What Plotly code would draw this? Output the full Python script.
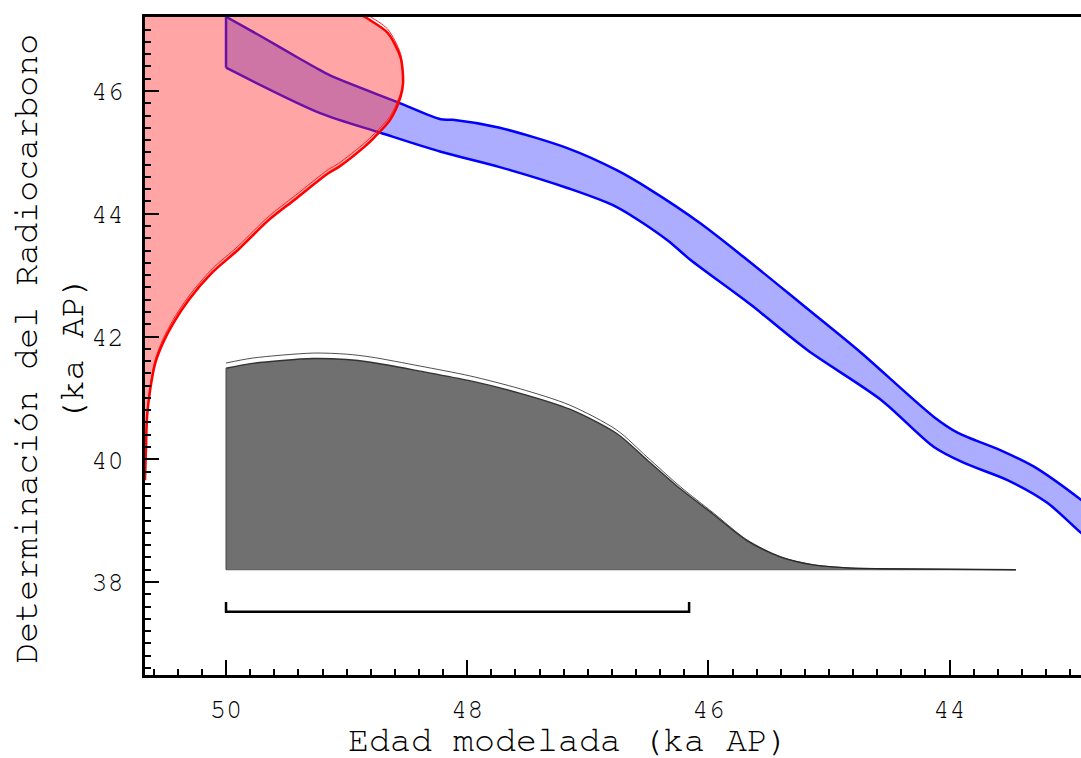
import plotly.graph_objects as go

# ---------------- data ----------------
# Calibration curve band (modelled age in ka, radiocarbon age in ka)
cal_upper_age = [50.0, 49.70, 49.41, 49.22, 49.11, 48.58, 48.22, 48.12, 47.73, 47.17, 46.76,
                 46.48, 46.07, 45.71, 45.24, 44.76, 44.13, 43.93, 43.58, 43.30, 42.91, 42.70]
cal_upper_c14 = [47.21, 46.88, 46.55, 46.34, 46.23, 45.82, 45.54, 45.53, 45.40, 45.07, 44.71,
                 44.39, 43.85, 43.30, 42.55, 41.78, 40.69, 40.43, 40.15, 39.88, 39.34, 39.00]
cal_lower_age = [50.0, 49.22, 48.72, 48.22, 47.73, 47.17, 46.76, 46.34, 46.15, 45.65, 45.18,
                 44.57, 44.13, 43.88, 43.52, 43.19, 42.91, 42.70]
cal_lower_c14 = [46.38, 45.64, 45.32, 45.01, 44.76, 44.42, 44.11, 43.57, 43.25, 42.52, 41.78,
                 40.97, 40.20, 39.94, 39.66, 39.29, 38.80, 38.45]

# Radiocarbon determination probability (relative) vs radiocarbon age (ka)
c14_age = [39.66, 40.20, 40.69, 41.13, 41.57, 41.90, 42.22, 42.60, 43.04, 43.41, 43.90,
           44.23, 44.66, 44.76, 45.09, 45.25, 45.53, 45.90, 46.13, 46.55, 46.95, 47.16,
           47.21, 47.50, 48.00]
c14_prob = [0.0, 0.004, 0.008, 0.02, 0.04, 0.07, 0.11, 0.17, 0.26, 0.36, 0.48,
            0.58, 0.71, 0.75, 0.85, 0.89, 0.95, 0.99, 1.0, 0.99, 0.94, 0.87,
            0.85, 0.70, 0.40]

# Modelled age posterior (relative) vs modelled age (ka)
post_age = [50.0, 49.78, 49.28, 49.00, 48.80, 48.39, 47.98, 47.56, 47.15, 46.76,
            46.51, 46.23, 45.96, 45.68, 45.40, 45.13, 44.85, 44.57, 43.45]
post_prob = [0.954, 0.977, 1.0, 0.995, 0.982, 0.94, 0.895, 0.835, 0.76, 0.645,
             0.521, 0.382, 0.263, 0.138, 0.060, 0.023, 0.009, 0.005, 0.0]

# 95% modelled range (ka)
range_start, range_end = 50.0, 46.16

x_ticks = [50, 48, 46, 44]
y_ticks = [38, 40, 42, 44, 46]

# ---------------- layout constants ----------------
X_RANGE = [50.672, 42.91]
Y_RANGE = [36.485, 47.206]
RED_SCALE = 2.14      # ka of x per unit probability
GRAY_BASE = 38.2
GRAY_SCALE = 3.53     # ka of y per unit probability
BRACKET_Y = 37.515
BRACKET_TICK = 0.16
FONT = "FreeMono, Nimbus Mono PS, Courier New, Liberation Mono, monospace"
SPL = dict(shape="spline", smoothing=0.8)

fig = go.Figure()

# Calibration band
fig.add_trace(go.Scatter(x=cal_lower_age, y=cal_lower_c14, mode="lines",
                         line=dict(color="#0000ff", width=2.5, **SPL), hoverinfo="skip"))
fig.add_trace(go.Scatter(x=cal_upper_age, y=cal_upper_c14, mode="lines", fill="tonexty",
                         fillcolor="rgba(0,0,255,0.32)",
                         line=dict(color="#0000ff", width=2.5, **SPL), hoverinfo="skip"))
fig.add_trace(go.Scatter(x=[cal_upper_age[0], cal_lower_age[0]],
                         y=[cal_upper_c14[0], cal_lower_c14[0]], mode="lines",
                         line=dict(color="#0000ff", width=2.5), hoverinfo="skip"))

# Radiocarbon determination (red)
xl = X_RANGE[0] + 0.5
red_x = [X_RANGE[0] - p * RED_SCALE for p in c14_prob]
fig.add_trace(go.Scatter(x=[xl, xl], y=[c14_age[0], c14_age[-1]], mode="lines",
                         line=dict(width=0), hoverinfo="skip"))
fig.add_trace(go.Scatter(x=red_x, y=c14_age, mode="lines", fill="tonextx",
                         fillcolor="rgba(255,40,40,0.42)",
                         line=dict(width=0, **SPL), hoverinfo="skip"))
fig.add_trace(go.Scatter(x=red_x, y=[a + 0.06 for a in c14_age], mode="lines",
                         line=dict(color="#ff2020", width=1, **SPL), hoverinfo="skip"))
fig.add_trace(go.Scatter(x=red_x, y=c14_age, mode="lines",
                         line=dict(color="#ff0000", width=2.5, **SPL), hoverinfo="skip"))

# Modelled age posterior (gray)
gy = [GRAY_BASE + p * GRAY_SCALE for p in post_prob]
gy_hist = [GRAY_BASE + p * GRAY_SCALE * 0.975 for p in post_prob]
fig.add_trace(go.Scatter(x=[post_age[0], post_age[-1]], y=[GRAY_BASE, GRAY_BASE], mode="lines",
                         line=dict(color="#555555", width=1), hoverinfo="skip"))
fig.add_trace(go.Scatter(x=post_age, y=gy_hist, mode="lines", fill="tonexty",
                         fillcolor="rgb(112,112,112)",
                         line=dict(color="#333333", width=1.4, **SPL), hoverinfo="skip"))
fig.add_trace(go.Scatter(x=[post_age[0], post_age[0]], y=[GRAY_BASE, gy_hist[0]], mode="lines",
                         line=dict(color="#444444", width=1), hoverinfo="skip"))
fig.add_trace(go.Scatter(x=post_age, y=gy, mode="lines",
                         line=dict(color="#222222", width=0.8, **SPL), hoverinfo="skip"))

# Range bracket
fig.add_trace(go.Scatter(x=[range_start, range_start, range_end, range_end],
                         y=[BRACKET_Y + BRACKET_TICK, BRACKET_Y, BRACKET_Y, BRACKET_Y + BRACKET_TICK],
                         mode="lines", line=dict(color="black", width=2.5), hoverinfo="skip"))

fig.update_layout(
    width=1081, height=758,
    margin=dict(l=145, r=0, t=17, b=83),
    paper_bgcolor="white", plot_bgcolor="white",
    showlegend=False,
    font=dict(family=FONT, color="black"),
    xaxis=dict(range=X_RANGE, tickvals=x_ticks, ticktext=[str(v) for v in x_ticks],
               ticks="inside", ticklen=15, tickwidth=2, tickcolor="black",
               minor=dict(ticks="inside", ticklen=6, tickwidth=1.5, tickcolor="black", dtick=0.2,
                          tick0=0, showgrid=False),
               showline=True, linewidth=3, linecolor="black", mirror=True,
               showgrid=False, zeroline=False, tickfont=dict(size=27, family=FONT),
               ticklabelstandoff=8),
    yaxis=dict(range=Y_RANGE, tickvals=y_ticks, ticktext=[str(v) for v in y_ticks],
               ticks="inside", ticklen=14, tickwidth=2, tickcolor="black",
               minor=dict(ticks="inside", ticklen=6, tickwidth=1.5, tickcolor="black", dtick=0.2,
                          tick0=0, showgrid=False),
               showline=True, linewidth=3, linecolor="black", mirror=False,
               showgrid=False, zeroline=False, tickfont=dict(size=27, family=FONT),
               ticklabelstandoff=13),
    annotations=[
        dict(text="Edad modelada (ka AP)", xref="paper", yref="paper", x=0.452, y=-0.1,
             xanchor="center", yanchor="middle", showarrow=False,
             font=dict(size=35, family=FONT, color="black")),
        dict(text="Determinación del Radiocarbono<br>(ka AP)", xref="paper", yref="paper",
             x=-0.1015, y=0.496, xanchor="center", yanchor="middle", textangle=-90,
             showarrow=False, align="center",
             font=dict(size=35, family=FONT, color="black")),
    ],
)

fig.write_html("out.html")
